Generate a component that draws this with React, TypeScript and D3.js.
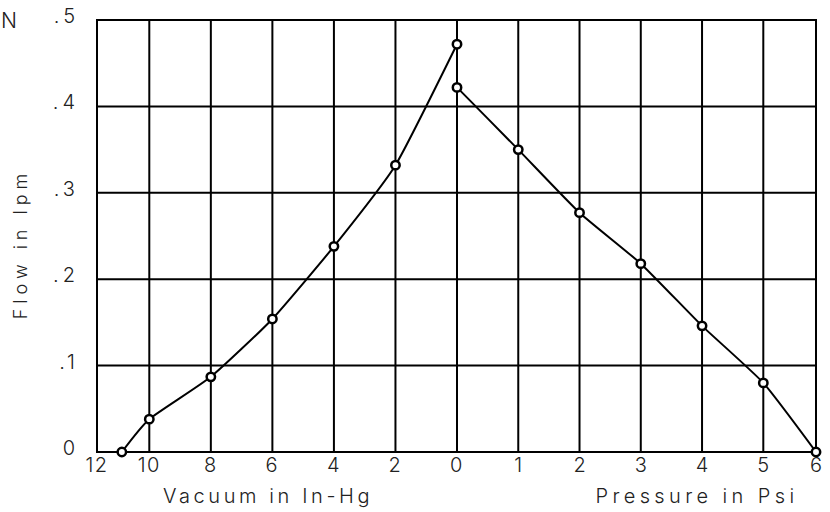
import { useEffect, useRef } from "react"
import * as d3 from 'd3'

const vacuumTicks = [12, 10, 8, 6, 4, 2, 0]
const pressureTicks = [1, 2, 3, 4, 5, 6]
const flowTicks = [0, 0.1, 0.2, 0.3, 0.4, 0.5]
const flowTickLabels = ["0", ".1", ".2", ".3", ".4", ".5"]

const vacuumX = [11.05, 10, 8, 6, 4, 2, 0]
const vacuumFlow = [0, 0.038, 0.087, 0.154, 0.238, 0.332, 0.472]
const pressureX = [0, 1, 2, 3, 4, 5, 6]
const pressureFlow = [0.422, 0.35, 0.277, 0.218, 0.146, 0.08, 0]

const FONT = "Inter, 'DejaVu Sans', sans-serif"

export default function App() {
  const svgRef = useRef<SVGSVGElement>(null)

  useEffect(() => {
    d3.select(svgRef.current).selectAll('*').remove()
    if (!svgRef.current) return
    const svg = d3.select(svgRef.current)

    // vacuum is plotted on the negative side, 2 in-Hg per column; pressure 1 psi per column
    const xScale = d3.scaleLinear()
      .domain([-12, -10, 0, 5, 6])
      .range([97, 149.3, 457, 763.3, 816])
    const yScale = d3.scaleLinear().domain([0, 0.5]).range([452, 20])

    const left = xScale(-12), right = xScale(6)
    const top = yScale(0.5), bottom = yScale(0)

    const grid = svg.append('g').attr('stroke', '#000').attr('stroke-width', 2)
    const xs = [...vacuumTicks.map(v => -v), ...pressureTicks]
    grid.selectAll('line.v').data(xs).enter().append('line')
      .attr('x1', d => xScale(d)).attr('x2', d => xScale(d))
      .attr('y1', top - 1).attr('y2', bottom + 1)
    grid.selectAll('line.h').data(flowTicks).enter().append('line')
      .attr('x1', left - 1).attr('x2', right + 1)
      .attr('y1', d => yScale(d)).attr('y2', d => yScale(d))

    const labels = svg.append('g')
      .attr('font-family', FONT)
      .attr('font-weight', 300)
      .attr('fill', '#222')
      .attr('font-size', 20)

    labels.selectAll('text.vx').data(vacuumTicks).enter().append('text')
      .attr('x', d => xScale(-d)).attr('y', 472)
      .attr('text-anchor', 'middle').attr('letter-spacing', 1.5)
      .text(d => String(d))
    labels.selectAll('text.px').data(pressureTicks).enter().append('text')
      .attr('x', d => xScale(d)).attr('y', 472)
      .attr('text-anchor', 'middle')
      .text(d => String(d))
    labels.selectAll('text.y').data(flowTicks).enter().append('text')
      .attr('x', 79).attr('y', d => yScale(d) + 3)
      .attr('text-anchor', 'end').attr('letter-spacing', 4)
      .text((d, i) => flowTickLabels[i])

    labels.append('text')
      .attr('x', 268).attr('y', 503)
      .attr('text-anchor', 'middle').attr('letter-spacing', 3.6)
      .text('Vacuum in In-Hg')
    labels.append('text')
      .attr('x', 697).attr('y', 503)
      .attr('text-anchor', 'middle').attr('letter-spacing', 4.4)
      .text('Pressure in Psi')
    labels.append('text')
      .attr('transform', 'translate(27,244) rotate(-90)')
      .attr('text-anchor', 'middle').attr('letter-spacing', 5)
      .attr('font-size', 18)
      .text('Flow in lpm')
    labels.append('text')
      .attr('x', 1).attr('y', 28)
      .attr('font-size', 21)
      .text('N')

    const line = d3.line<[number, number]>()
      .x(d => xScale(d[0]))
      .y(d => yScale(d[1]))
      .curve(d3.curveCardinal.tension(0.5))

    const series = [
      vacuumX.map((v, i) => [-v, vacuumFlow[i]] as [number, number]),
      pressureX.map((p, i) => [p, pressureFlow[i]] as [number, number]),
    ]

    series.forEach(pts => {
      svg.append('path')
        .datum(pts)
        .attr('fill', 'none')
        .attr('stroke', '#000')
        .attr('stroke-width', 2)
        .attr('d', line)
      svg.append('g').selectAll('circle').data(pts).enter().append('circle')
        .attr('cx', d => xScale(d[0]))
        .attr('cy', d => yScale(d[1]))
        .attr('r', 4.2)
        .attr('fill', '#fff')
        .attr('stroke', '#000')
        .attr('stroke-width', 2.5)
    })
  }, [])

  return (
    <div style={{ position: 'absolute', left: 0, top: 0 }}>
      <svg ref={svgRef} width="830" height="512" style={{ display: 'block', background: '#fff' }}></svg>
    </div>
  )
}
